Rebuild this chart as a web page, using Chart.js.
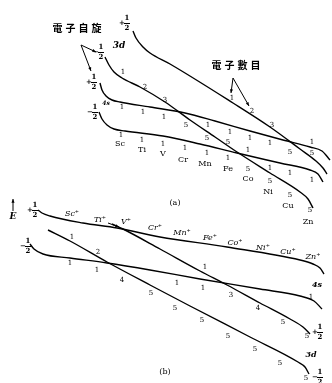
<!DOCTYPE html>
<html>
<head>
<meta charset="utf-8">
<script src="https://cdn.jsdelivr.net/npm/chart.js@4/dist/chart.umd.min.js"></script>
<style>
  body { margin: 0; background: #fff; }
  #wrap { width: 332px; height: 383px; }
</style>
</head>
<body>
<div id="wrap"><canvas id="levels"></canvas></div>
<script>
// (a) neutral atoms - level curves
const a3dUp   = [[133,31],[136,38],[143,47],[150,53],[170,64],[233,103],[270,127],[300,149],[316,161],[323,168],[327,174]];
const a3dDown = [[105,57],[109,65],[114,72],[122,78],[140,87],[165,102],[190,120],[215,137],[237,152],[270,173],[300,192],[308,199],[313,208]];
const a4sUp   = [[100,83],[102,90],[106,96],[112,100],[120,102],[150,107],[185,113],[215,121],[250,131],[283,140],[310,147],[322,151],[330,160]];
const a4sDown = [[99,112],[102,119],[107,125],[114,129],[125,131],[163,136],[200,144],[237,153],[280,163],[310,170],[318,174],[323,182]];

// (b) ions - level curves
const bTop    = [[38,210],[42,213],[50,216],[83,223],[117,228],[160,237],[227,247],[300,260],[313,264],[320,268],[324,274]];
const b3dUp   = [[112,224],[123,229],[160,249],[200,271],[227,285],[260,303],[290,319],[303,327],[310,334]];
const b4s     = [[30,244],[34,249],[43,254],[70,258],[107,263],[150,270],[200,279],[260,289],[300,296],[314,301],[322,309]];
const b3dDown = [[48,230],[70,241],[107,262],[150,285],[190,306],[250,337],[298,362],[305,367],[309,374]];

// elements
const elemsA = [['Sc',120,144],['Ti',142,150],['V',163,154],['Cr',183,160],['Mn',205,164],['Fe',228,169],['Co',248,179],['Ni',268,192],['Cu',288,206],['Zn',308,222]];
const elemsB = [['Sc⁺',72,214],['Ti⁺',100,220],['V⁺',126,222],['Cr⁺',155,228],['Mn⁺',182,233],['Fe⁺',210,238],['Co⁺',235,243],['Ni⁺',263,248],['Cu⁺',288,252],['Zn⁺',313,257]];

// electron counts
const countsA = [
  ['1',123,72],['2',145,87],['3',165,100],
  ['1',122,107],['1',143,112],['1',164,117],['5',186,125],['1',208,125],
  ['1',230,132],['1',250,138],['1',270,143],['3',272,125],['2',252,111],['1',232,98],
  ['5',207,138],['5',228,142],['1',248,150],['5',290,152],['5',312,153],['1',312,142],
  ['1',121,135],['1',142,140],['1',163,144],['1',185,148],['1',207,153],['1',228,158],
  ['5',248,169],['1',270,168],['1',290,173],['1',312,180],['5',270,181],['5',290,195],['5',310,210]
];
const countsB = [
  ['1',72,237],['2',98,252],['1',70,263],['1',97,270],['4',122,280],['5',151,293],
  ['5',175,308],['5',202,320],['5',228,336],['5',255,349],['5',280,363],['5',306,378],
  ['1',205,267],['1',177,283],['1',203,288],['3',231,295],['4',258,308],['5',283,322],
  ['5',307,336],['1',311,297]
];

// spin labels: sign, x, y
const spins = [['+',127,23],['−',101,52],['+',94,82],['−',95,112],['+',35,210],['−',28,246],['+',320,332],['−',320,377]];
const orbitals = [['3d',119,46,9],['4s',106,103,6],['4s',317,285,8],['3d',311,355,8]];
const captions = [['(a)',175,203],['(b)',165,372]];
const notes = [['電子自旋',77,28],['電子數目',236,65]];

const toSet = (pts) => ({
  data: pts.map(p => ({x: p[0], y: p[1]})),
  showLine: true,
  borderColor: '#000',
  borderWidth: 1.4,
  pointRadius: 0,
  fill: false,
  cubicInterpolationMode: 'monotone'
})

const textPlugin = {
  id: 'texts',
  afterDatasetsDraw(chart) {
    const ctx = chart.ctx
    const sx = chart.scales.x, sy = chart.scales.y
    const px = v => sx.getPixelForValue(v), py = v => sy.getPixelForValue(v)
    ctx.save()
    ctx.fillStyle = '#000'
    ctx.strokeStyle = '#000'
    ctx.textAlign = 'center'
    ctx.textBaseline = 'middle'

    ctx.font = '8px "DejaVu Serif"'
    elemsA.forEach(e => ctx.fillText(e[0], px(e[1]), py(e[2])))
    ctx.font = 'italic 8px "DejaVu Serif"'
    elemsB.forEach(e => ctx.fillText(e[0], px(e[1]), py(e[2])))

    ctx.font = '7px "DejaVu Serif"'
    countsA.concat(countsB).forEach(c => ctx.fillText(c[0], px(c[1]), py(c[2])))

    // spin fractions
    spins.forEach(s => {
      const x = px(s[1]), y = py(s[2])
      ctx.font = 'bold 7px "DejaVu Serif"'
      ctx.fillText(s[0], x - 5, y)
      ctx.fillText('1', x, y - 5)
      ctx.fillText('2', x, y + 5)
      ctx.lineWidth = 1
      ctx.beginPath()
      ctx.moveTo(x - 3, y + 0.5)
      ctx.lineTo(x + 3, y + 0.5)
      ctx.stroke()
    })

    orbitals.forEach(o => {
      ctx.font = 'bold italic ' + o[3] + 'px "DejaVu Serif"'
      ctx.fillText(o[0], px(o[1]), py(o[2]))
    })
    ctx.font = '8px "DejaVu Serif"'
    captions.forEach(c => ctx.fillText(c[0], px(c[1]), py(c[2])))

    // chinese notes, spaced out like the hand lettering
    ctx.font = 'bold 10px "Noto Sans CJK TC"'
    notes.forEach(n => {
      const chars = [...n[0]]
      chars.forEach((ch, i) => {
        ctx.fillText(ch, px(n[1]) + (i - (chars.length - 1) / 2) * 13, py(n[2]))
      })
    })

    // pointer lines
    const arrow = (x1, y1, x2, y2) => {
      const a = px(x1), b = py(y1), c = px(x2), d = py(y2)
      ctx.lineWidth = 1
      ctx.beginPath(); ctx.moveTo(a, b); ctx.lineTo(c, d); ctx.stroke()
      const ang = Math.atan2(d - b, c - a)
      ctx.beginPath()
      ctx.moveTo(c, d)
      ctx.lineTo(c - 4 * Math.cos(ang - 0.4), d - 4 * Math.sin(ang - 0.4))
      ctx.lineTo(c - 4 * Math.cos(ang + 0.4), d - 4 * Math.sin(ang + 0.4))
      ctx.closePath(); ctx.fill()
    }
    arrow(81, 45, 96, 52)
    arrow(81, 45, 91, 71)
    arrow(233, 78, 231, 93)
    arrow(233, 78, 249, 106)
    arrow(13, 211, 13, 199)
    arrow(108, 223, 119, 227)
    ctx.font = 'italic bold 9px "DejaVu Serif"'
    ctx.fillText('E', px(13), py(217))
    ctx.restore()
  }
}

new Chart(document.getElementById('levels'), {
  type: 'scatter',
  data: {
    datasets: [a3dUp, a3dDown, a4sUp, a4sDown, bTop, b3dUp, b4s, b3dDown].map(toSet)
  },
  options: {
    responsive: true,
    maintainAspectRatio: false,
    animation: false,
    layout: { padding: 0 },
    plugins: { legend: { display: false }, tooltip: { enabled: false } },
    scales: {
      x: { type: 'linear', min: 0, max: 332, display: false },
      y: { type: 'linear', min: 0, max: 383, reverse: true, display: false }
    }
  },
  plugins: [textPlugin]
})
</script>
</body>
</html>
